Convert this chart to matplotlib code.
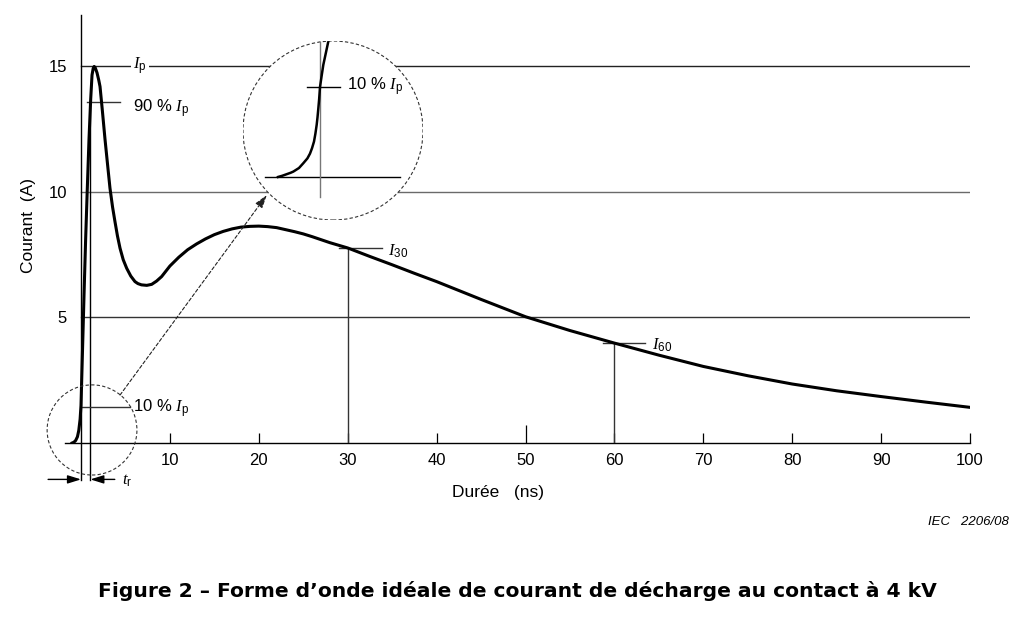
import matplotlib
matplotlib.use("Agg")
import matplotlib.pyplot as plt
from matplotlib.patches import Ellipse

plt.rcParams['font.family'] = ['Liberation Sans', 'DejaVu Sans']
plt.rcParams['mathtext.fontset'] = 'custom'
plt.rcParams['mathtext.it'] = 'Liberation Serif:italic'
plt.rcParams['mathtext.rm'] = 'Liberation Sans'

# --- données ---
t_ns = [-1.0, -0.8, -0.6, -0.4, -0.25, -0.1, 0.0, 0.17, 0.34, 0.52, 0.71, 0.9, 1.09,
        1.24, 1.37, 1.48, 1.6, 1.8, 2.0, 2.14, 2.4, 2.7, 3.0, 3.26, 3.55, 3.82,
        4.1, 4.39, 4.75, 5.14, 5.6, 6.07, 6.4, 6.8, 7.4, 7.95, 8.5, 9.07, 10, 11,
        12, 13, 14, 15, 16, 17, 18, 19, 20, 21, 22, 23, 24, 25, 26, 27, 28, 30,
        32.5, 35, 37.5, 40, 45, 50, 55, 60, 65, 70, 75, 80, 85, 90, 95, 100]
courant = [0.0, 0.03, 0.1, 0.25, 0.5, 0.95, 1.5, 3.7, 5.9, 8.1, 10.15, 12.1, 13.7,
           14.66, 14.92, 15.0, 14.95, 14.75, 14.45, 14.2, 13.25, 12.1, 11.05, 10.15,
           9.4, 8.82, 8.25, 7.76, 7.3, 6.96, 6.65, 6.43, 6.35, 6.3, 6.28, 6.32,
           6.45, 6.63, 7.05, 7.4, 7.7, 7.93, 8.13, 8.3, 8.43, 8.53, 8.6, 8.63,
           8.64, 8.62, 8.58, 8.5, 8.42, 8.33, 8.22, 8.1, 7.98, 7.77, 7.43, 7.1,
           6.76, 6.43, 5.72, 5.03, 4.48, 3.98, 3.5, 3.05, 2.68, 2.35, 2.08, 1.85,
           1.63, 1.42]

# détail agrandi du pied de l'onde
t_zoom = [-1.0, -0.9, -0.8, -0.7, -0.635, -0.5, -0.397, -0.3, -0.238, -0.19,
          -0.143, -0.11, -0.079, -0.06, -0.04, -0.02, 0.0, 0.04, 0.079, 0.14,
          0.198, 0.25]
i_zoom = [0.0, 0.02, 0.045, 0.07, 0.09, 0.15, 0.23, 0.31, 0.39, 0.48, 0.59,
          0.72, 0.87, 0.99, 1.14, 1.3, 1.5, 1.69, 1.87, 2.07, 2.26, 2.43]

x_ticks = [10, 20, 30, 40, 50, 60, 70, 80, 90, 100]
y_ticks = [5, 10, 15]
grid_colors = ['#333333', '#6a6a6a', '#222222']

Ip = 15
I90 = 13.6
I10 = 1.45
t90 = 1.05
t30, I30 = 30, 7.77
t60, I60 = 60, 3.98

fig = plt.figure(figsize=(10.15, 6.22), dpi=100)
W, H = 1015, 622
ax = fig.add_axes([65 / W, 1 - 443 / H, 905 / W, 428 / H])
ax.set_xlim(-1.8, 100)
ax.set_ylim(0, 17.05)
for s in ['top', 'right', 'left']:
    ax.spines[s].set_visible(False)
ax.spines['bottom'].set_linewidth(1.0)

# --- grille horizontale ---
for yv, c in zip(y_ticks, grid_colors):
    ax.plot([0, 100], [yv, yv], color=c, lw=1.0, zorder=1)

# axe vertical (prolongé vers le bas pour t_r)
ax.plot([0, 0], [-1.47, 17.05], color='black', lw=1.0, clip_on=False, zorder=2)

ax.set_xticks(x_ticks)
ax.set_xticklabels([str(v) for v in x_ticks])
ax.set_yticks(y_ticks)
ax.set_yticklabels([str(v) for v in y_ticks])
ax.tick_params(axis='x', direction='in', length=7.5, width=0.9, pad=7, labelsize=12)
ax.tick_params(axis='y', length=0, pad=-1.5, labelsize=12)
for tk in ax.xaxis.get_major_ticks():
    if tk.get_loc() == 50:
        tk.tick1line.set_markersize(13)

# --- courbe ---
ax.plot(t_ns, courant, color='black', lw=2.2, solid_joinstyle='round', zorder=4)

# Ip
ax.text(5.9, Ip, r'$I_{\mathrm{p}}$', fontsize=12, va='center', ha='left', zorder=3,
        bbox=dict(facecolor='white', edgecolor='none', pad=1.5))
# 90 % Ip
ax.plot([0.64, 4.4], [I90, I90], color='#333333', lw=1.0, zorder=3)
ax.text(5.9, I90 - 0.3, r'90 % $I_{\mathrm{p}}$', fontsize=12, va='center', ha='left')
ax.plot([t90, t90], [-1.47, I90], color='black', lw=1.0, clip_on=False, zorder=3)
# 10 % Ip
ax.plot([0, 5.5], [I10, I10], color='#333333', lw=1.0, zorder=3)
ax.text(5.85, I10 - 0.1, r'10 % $I_{\mathrm{p}}$', fontsize=12, va='center', ha='left')

# t_r
arrow = dict(arrowstyle='-|>,head_length=0.8,head_width=0.25', color='black', lw=1.0,
             shrinkA=0, shrinkB=0)
ax.annotate('', xy=(0, -1.45), xytext=(-3.7, -1.45), arrowprops=arrow, annotation_clip=False)
ax.annotate('', xy=(t90, -1.45), xytext=(3.8, -1.45), arrowprops=arrow, annotation_clip=False)
ax.text(4.6, -1.5, r'$t_{\mathrm{r}}$', fontsize=12, va='center', ha='left')

# I30 / I60
ax.plot([t30, t30], [0, I30], color='#333333', lw=1.0, zorder=3)
ax.plot([29.0, 33.9], [I30, I30], color='#333333', lw=1.0, zorder=3)
ax.text(34.5, I30 - 0.15, r'$I_{30}$', fontsize=12, va='center', ha='left')
ax.plot([t60, t60], [0, I60], color='#333333', lw=1.0, zorder=3)
ax.plot([58.7, 63.4], [I60, I60], color='#333333', lw=1.0, zorder=3)
ax.text(64.2, I60 - 0.1, r'$I_{60}$', fontsize=12, va='center', ha='left')

# petit cercle + flèche
ax.add_patch(Ellipse((1.24, 0.52), 10.1, 3.59, fill=False, ls=(0, (3, 2)),
                     lw=0.8, edgecolor='#333333', clip_on=False, zorder=5))
ax.annotate('', xy=(20.9, 9.88), xytext=(4.39, 1.91),
            arrowprops=dict(arrowstyle='-|>,head_length=0.8,head_width=0.25',
                            color='#222222', lw=0.8, ls=(0, (3, 2)),
                            shrinkA=0, shrinkB=0), zorder=5)

# --- agrandissement ---
axi = fig.add_axes([243 / W, 1 - 220 / H, 180 / W, 179 / H])
axi.set_xlim(-1.833, 2.452)
axi.set_ylim(-0.717, 2.267)
axi.axis('off')
circ = Ellipse((0.5, 0.5), 1.0, 1.0, transform=axi.transAxes, facecolor='white',
               edgecolor='#333333', ls=(0, (3, 2)), lw=0.8, zorder=1)
axi.add_patch(circ)
clip = Ellipse((0.5, 0.5), 1.0, 1.0, transform=axi.transAxes, facecolor='none',
               edgecolor='none')
axi.add_patch(clip)
axi.plot([-1.31, 1.90], [0, 0], color='black', lw=1.0, zorder=2)
l2, = axi.plot([0, 0], [-0.33, 2.5], color='#777777', lw=1.0, zorder=2)
l3, = axi.plot(t_zoom, i_zoom, color='black', lw=1.8, zorder=3,
               solid_joinstyle='round')
axi.plot([-0.31, 0.48], [1.5, 1.5], color='black', lw=1.0, zorder=2)
for ln in (l2, l3):
    ln.set_clip_path(clip)
axi.text(0.64, 1.5, r'10 % $I_{\mathrm{p}}$', fontsize=12, va='center', ha='left', zorder=4)

# --- textes ---
fig.text(28 / W, 1 - 226 / H, 'Courant  (A)', rotation=90, fontsize=12.5,
         ha='center', va='center')
fig.text(498 / W, 1 - 493 / H, 'Durée   (ns)', fontsize=12.5, ha='center', va='center')
fig.text(1009 / W, 1 - 525 / H, 'IEC   2206/08', fontsize=9.5, style='italic',
         ha='right', va='baseline')
fig.text(517 / W, 1 - 597 / H,
         'Figure 2 – Forme d’onde idéale de courant de décharge au contact à 4 kV',
         fontsize=14.6, fontweight='bold', family=['DejaVu Sans'],
         ha='center', va='baseline')

fig.savefig('out.png', dpi=100)
